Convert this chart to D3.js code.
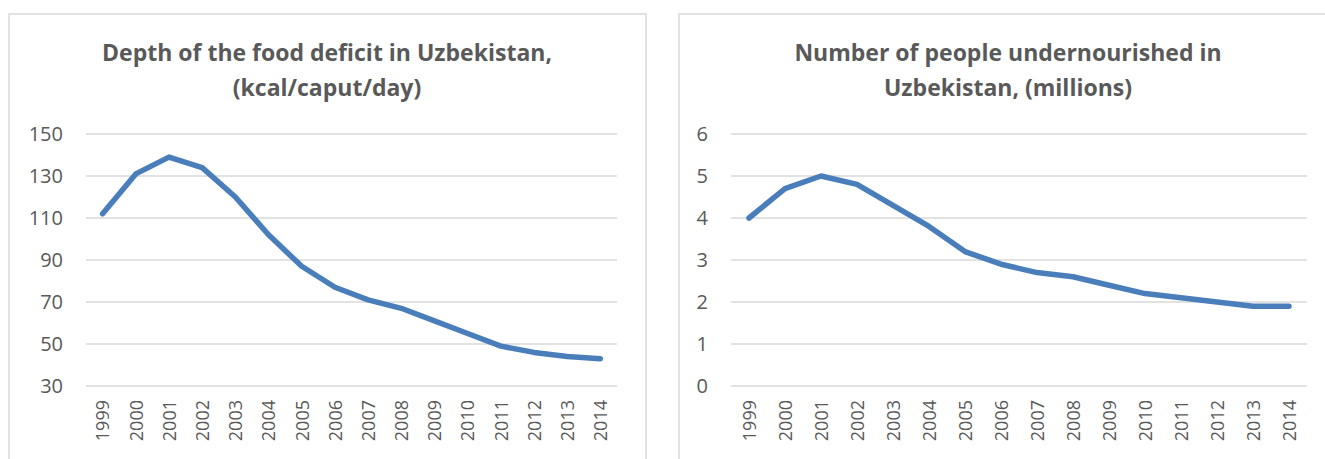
<!DOCTYPE html>
<html>
<head>
<meta charset="utf-8">
<script src="https://cdn.jsdelivr.net/npm/d3@7"></script>
<style>
  body { margin: 0; background: #fff; }
  svg { display: block; }
  .tick text { font-family: "Open Sans", sans-serif; fill: #595959; }
  .title { font-family: "Open Sans", sans-serif; font-weight: bold; fill: #595959; }
</style>
</head>
<body>
<div id="charts"></div>
<script>
//// DATA ////
var years = ["1999", "2000", "2001", "2002", "2003", "2004", "2005", "2006",
  "2007", "2008", "2009", "2010", "2011", "2012", "2013", "2014"];

var deficitValues = [112, 131, 139, 134, 120, 102, 87, 77, 71, 67, 61, 55, 49, 46, 44, 43];
var deficitTicks = [30, 50, 70, 90, 110, 130, 150];
var deficitTitle = ["Depth of the food deficit in Uzbekistan,", "(kcal/caput/day)"];

var undernourishedValues = [4.0, 4.7, 5.0, 4.8, 4.3, 3.8, 3.2, 2.9, 2.7, 2.6, 2.4, 2.2, 2.1, 2.0, 1.9, 1.9];
var undernourishedTicks = [0, 1, 2, 3, 4, 5, 6];
var undernourishedTitle = ["Number of people undernourished in", "Uzbekistan, (millions)"];

//// SET UP ////
var svgWidth = 1325;
var svgHeight = 459;

var svg = d3.select("#charts")
  .append("svg")
  .attr("width", svgWidth)
  .attr("height", svgHeight);

// draws one chart box with title, grid, axes and line
function drawChart(opts) {
  var g = svg.append("g");

  // chart frame (bottom runs off the picture)
  g.append("rect")
    .attr("x", opts.box[0])
    .attr("y", 14)
    .attr("width", opts.box[1] - opts.box[0])
    .attr("height", 470)
    .attr("fill", "none")
    .attr("stroke", "#d9d9d9")
    .attr("stroke-width", 1.5);

  var xScale = d3.scalePoint()
    .domain(years)
    .range(opts.xRange)
    .padding(0.5);

  var yScale = d3.scaleLinear()
    .domain(d3.extent(opts.ticks))
    .range([386, 134]);

  // gridlines
  g.append("g")
    .selectAll("line")
    .data(opts.ticks)
    .enter()
    .append("line")
    .attr("x1", opts.xRange[0])
    .attr("x2", opts.xRange[1])
    .attr("y1", d => yScale(d))
    .attr("y2", d => yScale(d))
    .attr("stroke", "#d9d9d9")
    .attr("stroke-width", 1.5);

  // y axis labels
  var leftAxis = d3.axisLeft(yScale)
    .tickValues(opts.ticks)
    .tickFormat(d => d)
    .tickSize(0)
    .tickPadding(23);

  var yAxis = g.append("g")
    .attr("transform", `translate(${opts.xRange[0]}, 0)`)
    .call(leftAxis);
  yAxis.select(".domain").remove();
  yAxis.selectAll("text").style("font-size", "20px");

  // x axis labels, rotated
  var bottomAxis = d3.axisBottom(xScale).tickSize(0);
  var xAxis = g.append("g")
    .attr("transform", "translate(0, 386)")
    .call(bottomAxis);
  xAxis.select(".domain").remove();
  xAxis.selectAll("text")
    .attr("transform", "rotate(-90)")
    .attr("text-anchor", "end")
    .attr("x", -14)
    .attr("y", 0)
    .attr("dy", "0.35em")
    .style("font-size", "18px");

  // line
  var line = d3.line()
    .x((d, i) => xScale(years[i]))
    .y(d => yScale(d));

  g.append("path")
    .datum(opts.values)
    .attr("d", line)
    .attr("fill", "none")
    .attr("stroke", "#4a7ebb")
    .attr("stroke-width", 5.5)
    .attr("stroke-linejoin", "round")
    .attr("stroke-linecap", "round");

  // title, two lines
  var titleText = g.append("text")
    .attr("class", "title")
    .attr("text-anchor", "middle")
    .style("font-size", "23px");

  titleText.selectAll("tspan")
    .data(opts.title)
    .enter()
    .append("tspan")
    .attr("x", opts.titleX)
    .attr("y", (d, i) => 61 + i * 35)
    .text(d => d);
}

drawChart({
  box: [9, 646],
  xRange: [86, 617],
  ticks: deficitTicks,
  values: deficitValues,
  title: deficitTitle,
  titleX: 327
});

drawChart({
  box: [679, 1340],
  xRange: [731, 1307],
  ticks: undernourishedTicks,
  values: undernourishedValues,
  title: undernourishedTitle,
  titleX: 1008
});
</script>
</body>
</html>
